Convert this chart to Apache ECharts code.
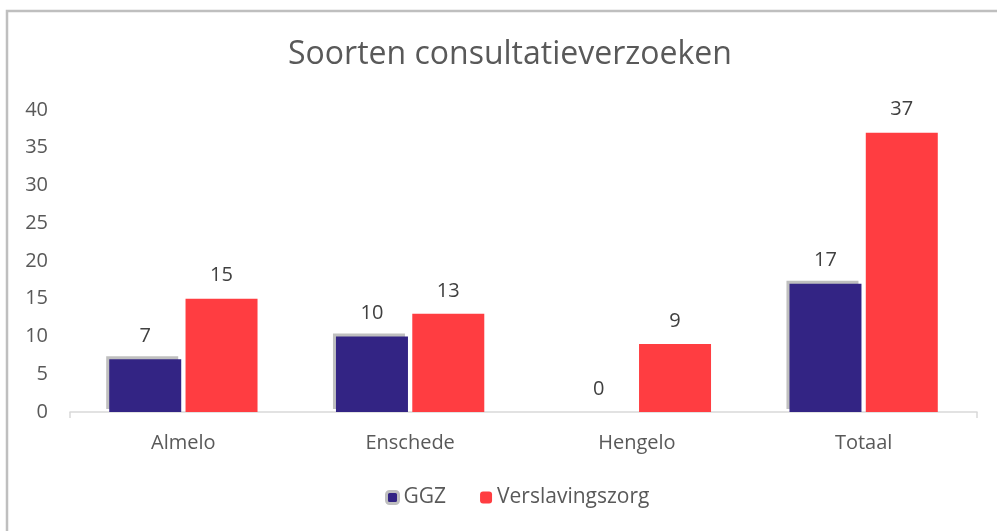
<!DOCTYPE html>
<html><head><meta charset="utf-8">
<script src="https://cdn.jsdelivr.net/npm/echarts@6/dist/echarts.min.js"></script>
<style>html,body{margin:0;padding:0;background:#fff}#c{width:997px;height:531px}</style>
</head><body><div id="c"></div>
<script>
const categories = ['Almelo', 'Enschede', 'Hengelo', 'Totaal'];
const ggz = [7, 10, 0, 17];
const verslavingszorg = [15, 13, 9, 37];
const yTicks = {min: 0, max: 40, interval: 5};

const chart = echarts.init(document.getElementById('c'));
const FONT = 'Open Sans';
chart.setOption({
  animation: false,
  graphic: [{type: 'rect', shape: {x: 7, y: 11, width: 1200, height: 800}, style: {fill: 'none', stroke: '#bfbfbf', lineWidth: 2.5}, silent: true}],
  title: {text: 'Soorten consultatieverzoeken', left: 283, top: 34,
    textStyle: {fontFamily: FONT, fontWeight: 'normal', fontSize: 32, color: '#595959'}},
  legend: {bottom: 18, left: 380, itemWidth: 12, itemHeight: 12, itemGap: 34,
    textStyle: {fontFamily: FONT, fontSize: 21, color: '#595959'},
    data: [{name: 'GGZ', itemStyle: {borderColor: '#bfbfbf', borderWidth: 3}}, 'Verslavingszorg']},
  grid: {left: 70, right: 20, top: 110, bottom: 119},
  xAxis: {type: 'category', data: categories,
    axisLine: {lineStyle: {color: '#d9d9d9', width: 1.5}},
    axisTick: {show: true, length: 6, lineStyle: {color: '#d9d9d9', width: 1.5},
      interval: function (i) { return i === 0 || i === categories.length; }},
    axisLabel: {fontFamily: FONT, fontSize: 20, color: '#595959', margin: 21}},
  yAxis: {type: 'value', min: yTicks.min, max: yTicks.max, interval: yTicks.interval,
    splitLine: {show: false}, axisLine: {show: false}, axisTick: {show: false},
    axisLabel: {fontFamily: FONT, fontSize: 20, color: '#595959', margin: 22}},
  series: [
    {name: 'GGZ', type: 'bar', data: ggz, barWidth: 72, barGap: '6%',
      itemStyle: {color: '#332484', shadowColor: '#bfbfbf', shadowBlur: 0, shadowOffsetX: -3, shadowOffsetY: -3},
      label: {show: true, position: 'top', distance: 13, fontFamily: FONT, fontSize: 20, color: '#404040'}},
    {name: 'Verslavingszorg', type: 'bar', data: verslavingszorg, barWidth: 72,
      itemStyle: {color: '#ff3d41'},
      label: {show: true, position: 'top', distance: 13, fontFamily: FONT, fontSize: 20, color: '#404040'}}
  ]
});
</script></body></html>
